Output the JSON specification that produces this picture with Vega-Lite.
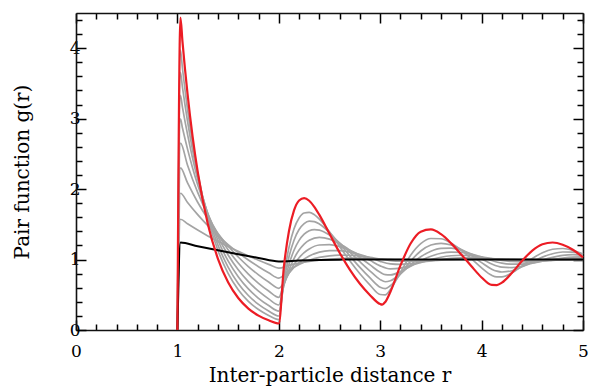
{
"$schema":"https://vega.github.io/schema/vega-lite/v6.json",
"width":507,"height":317,
"autosize":{"type":"none"},
"padding":{"left":76,"top":13,"right":6,"bottom":56},
"config":{"view":{"stroke":null},"font":"DejaVu Serif"},
"datasets":{
"gray":[
{"c":"g1","r":1,"g":0},{"c":"g1","r":1.03,"g":1.572},{"c":"g1","r":1.1,"g":1.507},{"c":"g1","r":1.2,"g":1.419},{"c":"g1","r":1.3,"g":1.336},{"c":"g1","r":1.4,"g":1.259},{"c":"g1","r":1.5,"g":1.185},{"c":"g1","r":1.6,"g":1.116},{"c":"g1","r":1.7,"g":1.051},{"c":"g1","r":1.8,"g":0.99},{"c":"g1","r":1.9,"g":0.932},{"c":"g1","r":2,"g":0.878},{"c":"g1","r":2.1,"g":0.917},{"c":"g1","r":2.2,"g":0.949},{"c":"g1","r":2.3,"g":0.974},{"c":"g1","r":2.4,"g":0.993},{"c":"g1","r":2.5,"g":1.006},{"c":"g1","r":2.6,"g":1.015},{"c":"g1","r":2.7,"g":1.019},{"c":"g1","r":2.8,"g":1.019},{"c":"g1","r":2.9,"g":1.015},{"c":"g1","r":3,"g":1.009},{"c":"g1","r":3.1,"g":1.002},{"c":"g1","r":3.2,"g":0.998},{"c":"g1","r":3.3,"g":0.996},{"c":"g1","r":3.4,"g":0.996},{"c":"g1","r":3.5,"g":0.996},{"c":"g1","r":3.6,"g":0.997},{"c":"g1","r":3.8,"g":0.999},{"c":"g1","r":4,"g":1.001},{"c":"g1","r":4.2,"g":1.001},{"c":"g1","r":4.5,"g":1},{"c":"g1","r":5,"g":1},
{"c":"g2","r":1,"g":0},{"c":"g2","r":1.03,"g":1.941},{"c":"g2","r":1.1,"g":1.81},{"c":"g2","r":1.2,"g":1.638},{"c":"g2","r":1.3,"g":1.482},{"c":"g2","r":1.4,"g":1.341},{"c":"g2","r":1.5,"g":1.213},{"c":"g2","r":1.6,"g":1.098},{"c":"g2","r":1.7,"g":0.993},{"c":"g2","r":1.8,"g":0.899},{"c":"g2","r":1.9,"g":0.813},{"c":"g2","r":2,"g":0.736},{"c":"g2","r":2.1,"g":0.847},{"c":"g2","r":2.2,"g":0.93},{"c":"g2","r":2.3,"g":0.99},{"c":"g2","r":2.4,"g":1.03},{"c":"g2","r":2.5,"g":1.053},{"c":"g2","r":2.6,"g":1.062},{"c":"g2","r":2.7,"g":1.061},{"c":"g2","r":2.8,"g":1.05},{"c":"g2","r":2.9,"g":1.031},{"c":"g2","r":3,"g":1.006},{"c":"g2","r":3.1,"g":0.986},{"c":"g2","r":3.2,"g":0.977},{"c":"g2","r":3.3,"g":0.976},{"c":"g2","r":3.4,"g":0.979},{"c":"g2","r":3.5,"g":0.985},{"c":"g2","r":3.6,"g":0.992},{"c":"g2","r":3.7,"g":0.999},{"c":"g2","r":3.8,"g":1.004},{"c":"g2","r":3.9,"g":1.008},{"c":"g2","r":4,"g":1.009},{"c":"g2","r":4.1,"g":1.008},{"c":"g2","r":4.2,"g":1.005},{"c":"g2","r":4.3,"g":1.002},{"c":"g2","r":4.4,"g":1},{"c":"g2","r":4.5,"g":0.998},{"c":"g2","r":4.6,"g":0.997},{"c":"g2","r":4.7,"g":0.997},{"c":"g2","r":4.8,"g":0.998},{"c":"g2","r":4.9,"g":0.998},{"c":"g2","r":5,"g":0.999},
{"c":"g3","r":1,"g":0},{"c":"g3","r":1.03,"g":2.301},{"c":"g3","r":1.1,"g":2.087},{"c":"g3","r":1.2,"g":1.814},{"c":"g3","r":1.3,"g":1.577},{"c":"g3","r":1.4,"g":1.371},{"c":"g3","r":1.5,"g":1.192},{"c":"g3","r":1.6,"g":1.036},{"c":"g3","r":1.7,"g":0.901},{"c":"g3","r":1.8,"g":0.783},{"c":"g3","r":1.9,"g":0.681},{"c":"g3","r":2,"g":0.592},{"c":"g3","r":2.1,"g":0.807},{"c":"g3","r":2.2,"g":0.955},{"c":"g3","r":2.3,"g":1.051},{"c":"g3","r":2.4,"g":1.106},{"c":"g3","r":2.5,"g":1.128},{"c":"g3","r":2.6,"g":1.126},{"c":"g3","r":2.7,"g":1.105},{"c":"g3","r":2.8,"g":1.07},{"c":"g3","r":2.9,"g":1.026},{"c":"g3","r":3,"g":0.975},{"c":"g3","r":3.1,"g":0.94},{"c":"g3","r":3.2,"g":0.933},{"c":"g3","r":3.3,"g":0.943},{"c":"g3","r":3.4,"g":0.961},{"c":"g3","r":3.5,"g":0.982},{"c":"g3","r":3.6,"g":1.001},{"c":"g3","r":3.7,"g":1.016},{"c":"g3","r":3.8,"g":1.025},{"c":"g3","r":3.9,"g":1.028},{"c":"g3","r":4,"g":1.025},{"c":"g3","r":4.1,"g":1.015},{"c":"g3","r":4.2,"g":1.005},{"c":"g3","r":4.3,"g":0.996},{"c":"g3","r":4.4,"g":0.99},{"c":"g3","r":4.5,"g":0.988},{"c":"g3","r":4.6,"g":0.988},{"c":"g3","r":4.7,"g":0.991},{"c":"g3","r":4.8,"g":0.995},{"c":"g3","r":4.9,"g":0.999},{"c":"g3","r":5,"g":1.003},
{"c":"g4","r":1,"g":0},{"c":"g4","r":1.03,"g":2.653},{"c":"g4","r":1.1,"g":2.339},{"c":"g4","r":1.2,"g":1.954},{"c":"g4","r":1.3,"g":1.632},{"c":"g4","r":1.4,"g":1.363},{"c":"g4","r":1.5,"g":1.138},{"c":"g4","r":1.6,"g":0.951},{"c":"g4","r":1.7,"g":0.794},{"c":"g4","r":1.8,"g":0.663},{"c":"g4","r":1.9,"g":0.554},{"c":"g4","r":2,"g":0.463},{"c":"g4","r":2.05,"g":0.653},{"c":"g4","r":2.1,"g":0.808},{"c":"g4","r":2.15,"g":0.93},{"c":"g4","r":2.2,"g":1.026},{"c":"g4","r":2.25,"g":1.099},{"c":"g4","r":2.3,"g":1.151},{"c":"g4","r":2.4,"g":1.207},{"c":"g4","r":2.5,"g":1.213},{"c":"g4","r":2.6,"g":1.184},{"c":"g4","r":2.7,"g":1.132},{"c":"g4","r":2.8,"g":1.065},{"c":"g4","r":2.9,"g":0.989},{"c":"g4","r":3,"g":0.91},{"c":"g4","r":3.1,"g":0.867},{"c":"g4","r":3.2,"g":0.878},{"c":"g4","r":3.3,"g":0.914},{"c":"g4","r":3.4,"g":0.958},{"c":"g4","r":3.5,"g":1},{"c":"g4","r":3.6,"g":1.033},{"c":"g4","r":3.7,"g":1.054},{"c":"g4","r":3.8,"g":1.061},{"c":"g4","r":3.9,"g":1.056},{"c":"g4","r":4,"g":1.038},{"c":"g4","r":4.1,"g":1.012},{"c":"g4","r":4.2,"g":0.989},{"c":"g4","r":4.3,"g":0.973},{"c":"g4","r":4.4,"g":0.967},{"c":"g4","r":4.5,"g":0.969},{"c":"g4","r":4.6,"g":0.977},{"c":"g4","r":4.7,"g":0.989},{"c":"g4","r":4.8,"g":1},{"c":"g4","r":4.9,"g":1.01},{"c":"g4","r":5,"g":1.016},
{"c":"g5","r":1,"g":0},{"c":"g5","r":1.03,"g":2.996},{"c":"g5","r":1.05,"g":2.867},{"c":"g5","r":1.1,"g":2.568},{"c":"g5","r":1.15,"g":2.301},{"c":"g5","r":1.2,"g":2.061},{"c":"g5","r":1.3,"g":1.654},{"c":"g5","r":1.4,"g":1.327},{"c":"g5","r":1.5,"g":1.065},{"c":"g5","r":1.6,"g":0.855},{"c":"g5","r":1.7,"g":0.686},{"c":"g5","r":1.8,"g":0.551},{"c":"g5","r":1.9,"g":0.442},{"c":"g5","r":2,"g":0.355},{"c":"g5","r":2.05,"g":0.633},{"c":"g5","r":2.1,"g":0.85},{"c":"g5","r":2.15,"g":1.014},{"c":"g5","r":2.2,"g":1.135},{"c":"g5","r":2.25,"g":1.22},{"c":"g5","r":2.3,"g":1.275},{"c":"g5","r":2.4,"g":1.315},{"c":"g5","r":2.5,"g":1.29},{"c":"g5","r":2.6,"g":1.223},{"c":"g5","r":2.7,"g":1.133},{"c":"g5","r":2.8,"g":1.03},{"c":"g5","r":2.9,"g":0.924},{"c":"g5","r":3,"g":0.819},{"c":"g5","r":3.05,"g":0.786},{"c":"g5","r":3.1,"g":0.782},{"c":"g5","r":3.2,"g":0.828},{"c":"g5","r":3.3,"g":0.905},{"c":"g5","r":3.4,"g":0.983},{"c":"g5","r":3.5,"g":1.047},{"c":"g5","r":3.6,"g":1.089},{"c":"g5","r":3.7,"g":1.106},{"c":"g5","r":3.8,"g":1.101},{"c":"g5","r":3.9,"g":1.076},{"c":"g5","r":4,"g":1.035},{"c":"g5","r":4.1,"g":0.987},{"c":"g5","r":4.2,"g":0.95},{"c":"g5","r":4.3,"g":0.934},{"c":"g5","r":4.4,"g":0.936},{"c":"g5","r":4.5,"g":0.952},{"c":"g5","r":4.6,"g":0.976},{"c":"g5","r":4.7,"g":1},{"c":"g5","r":4.8,"g":1.021},{"c":"g5","r":4.9,"g":1.035},{"c":"g5","r":5,"g":1.039},
{"c":"g6","r":1,"g":0},{"c":"g6","r":1.03,"g":3.33},{"c":"g6","r":1.05,"g":3.161},{"c":"g6","r":1.1,"g":2.776},{"c":"g6","r":1.15,"g":2.437},{"c":"g6","r":1.2,"g":2.14},{"c":"g6","r":1.3,"g":1.65},{"c":"g6","r":1.4,"g":1.272},{"c":"g6","r":1.5,"g":0.981},{"c":"g6","r":1.6,"g":0.757},{"c":"g6","r":1.7,"g":0.583},{"c":"g6","r":1.8,"g":0.45},{"c":"g6","r":1.9,"g":0.347},{"c":"g6","r":2,"g":0.267},{"c":"g6","r":2.05,"g":0.646},{"c":"g6","r":2.1,"g":0.928},{"c":"g6","r":2.15,"g":1.132},{"c":"g6","r":2.2,"g":1.272},{"c":"g6","r":2.25,"g":1.361},{"c":"g6","r":2.3,"g":1.41},{"c":"g6","r":2.35,"g":1.426},{"c":"g6","r":2.4,"g":1.418},{"c":"g6","r":2.5,"g":1.348},{"c":"g6","r":2.6,"g":1.236},{"c":"g6","r":2.7,"g":1.105},{"c":"g6","r":2.8,"g":0.969},{"c":"g6","r":2.9,"g":0.837},{"c":"g6","r":3,"g":0.715},{"c":"g6","r":3.05,"g":0.685},{"c":"g6","r":3.1,"g":0.699},{"c":"g6","r":3.2,"g":0.797},{"c":"g6","r":3.3,"g":0.926},{"c":"g6","r":3.4,"g":1.039},{"c":"g6","r":3.5,"g":1.119},{"c":"g6","r":3.6,"g":1.159},{"c":"g6","r":3.7,"g":1.161},{"c":"g6","r":3.8,"g":1.132},{"c":"g6","r":3.9,"g":1.079},{"c":"g6","r":4,"g":1.009},{"c":"g6","r":4.1,"g":0.936},{"c":"g6","r":4.2,"g":0.892},{"c":"g6","r":4.3,"g":0.886},{"c":"g6","r":4.4,"g":0.909},{"c":"g6","r":4.5,"g":0.949},{"c":"g6","r":4.6,"g":0.994},{"c":"g6","r":4.7,"g":1.032},{"c":"g6","r":4.8,"g":1.059},{"c":"g6","r":4.9,"g":1.069},{"c":"g6","r":5,"g":1.064},
{"c":"g7","r":1,"g":0},{"c":"g7","r":1.03,"g":3.656},{"c":"g7","r":1.05,"g":3.443},{"c":"g7","r":1.1,"g":2.963},{"c":"g7","r":1.15,"g":2.551},{"c":"g7","r":1.2,"g":2.195},{"c":"g7","r":1.3,"g":1.626},{"c":"g7","r":1.4,"g":1.205},{"c":"g7","r":1.5,"g":0.893},{"c":"g7","r":1.6,"g":0.661},{"c":"g7","r":1.7,"g":0.49},{"c":"g7","r":1.8,"g":0.363},{"c":"g7","r":1.9,"g":0.269},{"c":"g7","r":2,"g":0.199},{"c":"g7","r":2.05,"g":0.688},{"c":"g7","r":2.1,"g":1.037},{"c":"g7","r":2.15,"g":1.275},{"c":"g7","r":2.2,"g":1.426},{"c":"g7","r":2.25,"g":1.511},{"c":"g7","r":2.3,"g":1.545},{"c":"g7","r":2.35,"g":1.539},{"c":"g7","r":2.4,"g":1.506},{"c":"g7","r":2.5,"g":1.383},{"c":"g7","r":2.6,"g":1.223},{"c":"g7","r":2.7,"g":1.053},{"c":"g7","r":2.8,"g":0.889},{"c":"g7","r":2.9,"g":0.739},{"c":"g7","r":3,"g":0.607},{"c":"g7","r":3.05,"g":0.587},{"c":"g7","r":3.1,"g":0.628},{"c":"g7","r":3.2,"g":0.794},{"c":"g7","r":3.3,"g":0.978},{"c":"g7","r":3.4,"g":1.122},{"c":"g7","r":3.5,"g":1.206},{"c":"g7","r":3.6,"g":1.231},{"c":"g7","r":3.7,"g":1.206},{"c":"g7","r":3.8,"g":1.144},{"c":"g7","r":3.9,"g":1.057},{"c":"g7","r":4,"g":0.956},{"c":"g7","r":4.1,"g":0.863},{"c":"g7","r":4.15,"g":0.835},{"c":"g7","r":4.2,"g":0.823},{"c":"g7","r":4.3,"g":0.841},{"c":"g7","r":4.4,"g":0.898},{"c":"g7","r":4.5,"g":0.969},{"c":"g7","r":4.6,"g":1.035},{"c":"g7","r":4.7,"g":1.083},{"c":"g7","r":4.8,"g":1.107},{"c":"g7","r":4.9,"g":1.105},{"c":"g7","r":5,"g":1.079},
{"c":"g8","r":1,"g":0},{"c":"g8","r":1.03,"g":3.973},{"c":"g8","r":1.05,"g":3.712},{"c":"g8","r":1.1,"g":3.132},{"c":"g8","r":1.15,"g":2.642},{"c":"g8","r":1.2,"g":2.229},{"c":"g8","r":1.3,"g":1.587},{"c":"g8","r":1.4,"g":1.129},{"c":"g8","r":1.5,"g":0.804},{"c":"g8","r":1.6,"g":0.572},{"c":"g8","r":1.7,"g":0.407},{"c":"g8","r":1.8,"g":0.29},{"c":"g8","r":1.9,"g":0.206},{"c":"g8","r":2,"g":0.147},{"c":"g8","r":2.05,"g":0.755},{"c":"g8","r":2.1,"g":1.169},{"c":"g8","r":2.15,"g":1.436},{"c":"g8","r":2.2,"g":1.59},{"c":"g8","r":2.25,"g":1.661},{"c":"g8","r":2.3,"g":1.671},{"c":"g8","r":2.35,"g":1.638},{"c":"g8","r":2.4,"g":1.574},{"c":"g8","r":2.5,"g":1.393},{"c":"g8","r":2.6,"g":1.186},{"c":"g8","r":2.7,"g":0.983},{"c":"g8","r":2.8,"g":0.798},{"c":"g8","r":2.9,"g":0.638},{"c":"g8","r":3,"g":0.504},{"c":"g8","r":3.05,"g":0.5},{"c":"g8","r":3.1,"g":0.575},{"c":"g8","r":3.2,"g":0.821},{"c":"g8","r":3.3,"g":1.061},{"c":"g8","r":3.4,"g":1.225},{"c":"g8","r":3.5,"g":1.299},{"c":"g8","r":3.6,"g":1.295},{"c":"g8","r":3.7,"g":1.232},{"c":"g8","r":3.8,"g":1.132},{"c":"g8","r":3.9,"g":1.011},{"c":"g8","r":4,"g":0.882},{"c":"g8","r":4.1,"g":0.776},{"c":"g8","r":4.15,"g":0.754},{"c":"g8","r":4.2,"g":0.755},{"c":"g8","r":4.3,"g":0.811},{"c":"g8","r":4.4,"g":0.911},{"c":"g8","r":4.5,"g":1.015},{"c":"g8","r":4.6,"g":1.098},{"c":"g8","r":4.7,"g":1.146},{"c":"g8","r":4.8,"g":1.157},{"c":"g8","r":4.9,"g":1.131},{"c":"g8","r":5,"g":1.076}
],
"black":[
{"r":1,"g":0},{"r":1.03,"g":1.241},{"r":1.2,"g":1.189},{"r":1.4,"g":1.131},{"r":1.6,"g":1.076},{"r":1.8,"g":1.023},{"r":2,"g":0.974},{"r":2.2,"g":0.986},{"r":2.4,"g":0.994},{"r":2.6,"g":0.999},{"r":2.8,"g":1.002},{"r":3,"g":1.002},{"r":3.2,"g":1.001},{"r":3.4,"g":1},{"r":3.6,"g":1},{"r":3.8,"g":1},{"r":4,"g":1},{"r":4.5,"g":1},{"r":5,"g":1}
],
"red":[
{"r":1,"g":0},{"r":1.03,"g":4.435},{"r":1.05,"g":4.094},{"r":1.1,"g":3.352},{"r":1.15,"g":2.744},{"r":1.2,"g":2.247},{"r":1.3,"g":1.506},{"r":1.4,"g":1.01},{"r":1.5,"g":0.677},{"r":1.6,"g":0.454},{"r":1.7,"g":0.304},{"r":1.8,"g":0.204},{"r":1.9,"g":0.137},{"r":2,"g":0.092},{"r":2.05,"g":0.894},{"r":2.1,"g":1.402},{"r":2.15,"g":1.697},{"r":2.2,"g":1.839},{"r":2.25,"g":1.873},{"r":2.3,"g":1.835},{"r":2.35,"g":1.749},{"r":2.4,"g":1.634},{"r":2.5,"g":1.366},{"r":2.6,"g":1.097},{"r":2.7,"g":0.857},{"r":2.8,"g":0.656},{"r":2.9,"g":0.494},{"r":3,"g":0.368},{"r":3.02,"g":0.361},{"r":3.05,"g":0.398},{"r":3.1,"g":0.539},{"r":3.2,"g":0.917},{"r":3.3,"g":1.228},{"r":3.4,"g":1.396},{"r":3.5,"g":1.428},{"r":3.6,"g":1.36},{"r":3.7,"g":1.23},{"r":3.8,"g":1.071},{"r":3.9,"g":0.904},{"r":4,"g":0.746},{"r":4.1,"g":0.64},{"r":4.15,"g":0.638},{"r":4.2,"g":0.672},{"r":4.3,"g":0.812},{"r":4.4,"g":0.983},{"r":4.5,"g":1.128},{"r":4.6,"g":1.217},{"r":4.7,"g":1.242},{"r":4.8,"g":1.211},{"r":4.9,"g":1.14},{"r":5,"g":1.031}
]
},
"resolve":{"scale":{"x":"shared","y":"shared"},"axis":{"x":"independent","y":"independent"}},
"layer":[
{"data":{"name":"gray"},
 "mark":{"type":"line","interpolate":"monotone","color":"#a4a4a4","strokeWidth":1.7},
 "encoding":{
  "x":{"field":"r","type":"quantitative","scale":{"domain":[0,5],"nice":false,"zero":false},
   "axis":{"orient":"bottom","values":[0,0.2,0.4,0.6,0.8,1,1.2,1.4,1.6,1.8,2,2.2,2.4,2.6,2.8,3,3.2,3.4,3.6,3.8,4,4.2,4.4,4.6,4.8,5],
    "tickSize":{"condition":{"test":"datum.value % 1 === 0","value":-10},"value":-6},
    "tickColor":"#000","tickWidth":1.5,"domainColor":"#111","domainWidth":1.6,"grid":false,
    "labelExpr":"datum.value % 1 === 0 ? format(datum.value, 'd') : ''","labelFont":"DejaVu Serif","labelFontSize":17,"labelColor":"#000","labelPadding":23,"labelFlush":false,"labelOverlap":false,
    "title":"Inter-particle distance r","titleFont":"DejaVu Serif","titleFontSize":20,"titleFontWeight":"normal","titleColor":"#000","titleBaseline":"alphabetic","titleY":51}},
  "y":{"field":"g","type":"quantitative","scale":{"domain":[0,4.5],"nice":false,"zero":false},
   "axis":{"orient":"left","values":[0,0.2,0.4,0.6,0.8,1,1.2,1.4,1.6,1.8,2,2.2,2.4,2.6,2.8,3,3.2,3.4,3.6,3.8,4,4.2,4.4],
    "tickSize":{"condition":{"test":"datum.value % 1 === 0","value":-10},"value":-6},
    "tickColor":"#000","tickWidth":1.5,"domainColor":"#111","domainWidth":1.6,"grid":false,
    "labelExpr":"datum.value % 1 === 0 ? format(datum.value, 'd') : ''","labelFont":"DejaVu Serif","labelFontSize":17,"labelColor":"#000","labelPadding":6,"labelFlush":false,"labelOverlap":false,
    "title":"Pair function g(r)","titleFont":"DejaVu Serif","titleFontSize":20,"titleFontWeight":"normal","titleColor":"#000","titleBaseline":"alphabetic","titleX":-48}},
  "detail":{"field":"c","type":"nominal"}
 }},
{"data":{"name":"black"},
 "mark":{"type":"line","interpolate":"monotone","color":"#000","strokeWidth":2},
 "encoding":{
  "x":{"field":"r","type":"quantitative","axis":null},
  "y":{"field":"g","type":"quantitative","axis":null}
 }},
{"data":{"name":"red"},
 "mark":{"type":"line","interpolate":"monotone","color":"#ec1c24","strokeWidth":2.2},
 "encoding":{
  "x":{"field":"r","type":"quantitative",
   "axis":{"orient":"top","values":[0,0.2,0.4,0.6,0.8,1,1.2,1.4,1.6,1.8,2,2.2,2.4,2.6,2.8,3,3.2,3.4,3.6,3.8,4,4.2,4.4,4.6,4.8,5],
    "tickSize":{"condition":{"test":"datum.value % 1 === 0","value":-10},"value":-6},
    "tickColor":"#000","tickWidth":1.5,"domainColor":"#111","domainWidth":1.6,"grid":false,"labels":false,"title":null}},
  "y":{"field":"g","type":"quantitative",
   "axis":{"orient":"right","values":[0,0.2,0.4,0.6,0.8,1,1.2,1.4,1.6,1.8,2,2.2,2.4,2.6,2.8,3,3.2,3.4,3.6,3.8,4,4.2,4.4],
    "tickSize":{"condition":{"test":"datum.value % 1 === 0","value":-10},"value":-6},
    "tickColor":"#000","tickWidth":1.5,"domainColor":"#111","domainWidth":1.6,"grid":false,"labels":false,"title":null}}
 }}
]
}
